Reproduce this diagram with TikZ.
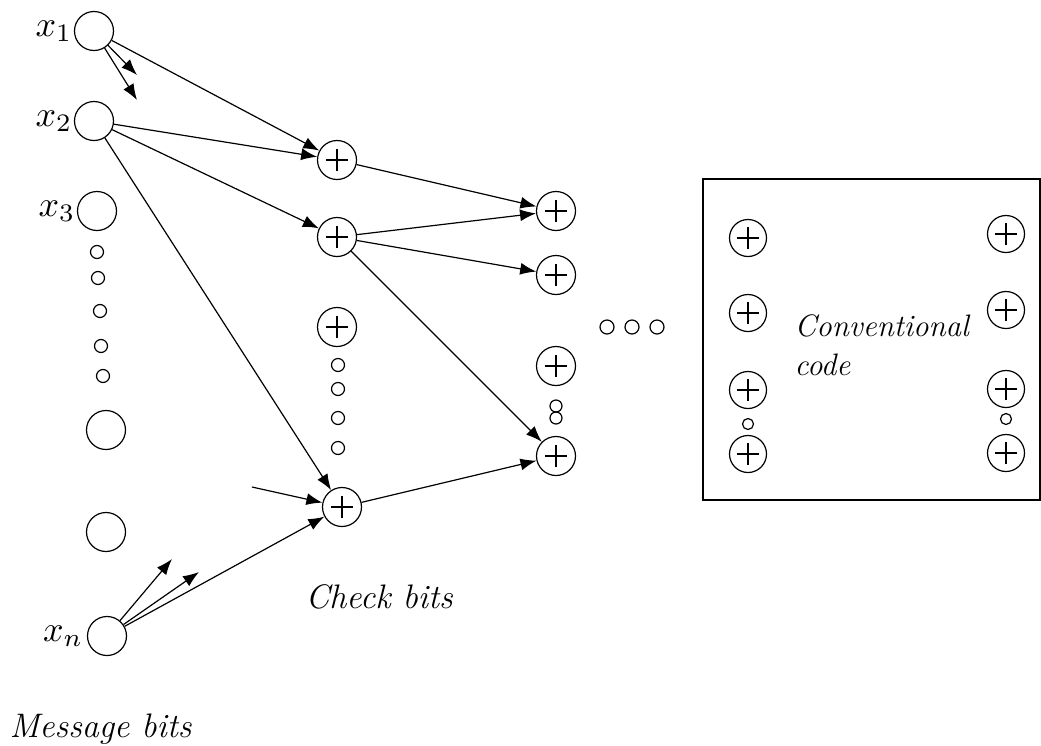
\documentclass[tikz,border=0pt]{standalone}
\usepackage{amsmath}
\usepackage{graphicx}
\usetikzlibrary{arrows.meta,positioning}

\begin{document}
\begin{tikzpicture}[x=1pt, y=-1pt, line width=1.2pt,
	main/.style = {draw, circle, minimum size=39pt, inner sep=0pt},
	xor/.style = {main, path picture={
		\draw ([xshift=-11pt]path picture bounding box.center) -- ([xshift=11pt]path picture bounding box.center);
		\draw ([yshift=-11pt]path picture bounding box.center) -- ([yshift=11pt]path picture bounding box.center);}},
	dot/.style = {draw, circle, minimum size=13pt, inner sep=0pt},
	arr/.style = {-{Latex[length=16pt,width=12pt]}},
	xlab/.style = {inner sep=0pt},
	lab/.style = {font=\fontsize{34}{40}\selectfont\itshape, inner sep=0pt, anchor=base west}]
	\useasboundingbox (0,0) rectangle (1041,745);
	% message bits
	\node[main] (x1) at (94,31) {};
	\node[main] (x2) at (94,121) {};
	\node[main] (x3) at (97,211) {};
	\node[dot] (m1) at (97,252) {};
	\node[dot] (m2) at (98,278) {};
	\node[dot] (m3) at (100,311) {};
	\node[dot] (m4) at (101,346) {};
	\node[dot] (m5) at (103,376) {};
	\node[main] (x4) at (106,430) {};
	\node[main] (x5) at (106,532) {};
	\node[main] (xn) at (107,636) {};
	\node[xlab, left=1pt of x1] (l1) {\scalebox{3.6}{$x_1$}};
	\node[xlab, left=1pt of x2] (l2) {\scalebox{3.6}{$x_2$}};
	\node[xlab, left=1pt of x3] (l3) {\scalebox{3.6}{$x_3$}};
	\node[xlab, left=3pt of xn] (ln) {\scalebox{3.6}{$x_n$}};
	% check bits
	\node[xor] (c1) at (337,160) {};
	\node[xor] (c2) at (337,237) {};
	\node[xor] (c3) at (337,327) {};
	\node[dot] (k1) at (338,365) {};
	\node[dot] (k2) at (338,389) {};
	\node[dot] (k3) at (338,418) {};
	\node[dot] (k4) at (338,448) {};
	\node[xor] (c4) at (342,507) {};
	% next layer
	\node[xor] (d1) at (556,211) {};
	\node[xor] (d2) at (556,275) {};
	\node[xor] (d3) at (556,366) {};
	\node[dot, minimum size=12pt] (e1) at (556,406) {};
	\node[dot, minimum size=12pt] (e2) at (556,418) {};
	\node[xor] (d4) at (556,456) {};
	\node[dot, minimum size=14pt] (o1) at (607,327) {};
	\node[dot, minimum size=14pt] (o2) at (632,327) {};
	\node[dot, minimum size=14pt] (o3) at (657,327) {};
	% free ends
	\coordinate (a1) at (137,75);
	\coordinate (a2) at (137,100);
	\coordinate (a3) at (172,559);
	\coordinate (a4) at (199,572);
	\coordinate (s1) at (252,487);
	% connections
	\draw[arr] (x1) -- (a1);
	\draw[arr] (x1) -- (a2);
	\draw[arr] (x1) -- (c1);
	\draw[arr] (x2) -- (c1);
	\draw[arr] (x2) -- (c2);
	\draw[arr] (x2) -- (c4);
	\draw[arr] (xn) -- (a3);
	\draw[arr] (xn) -- (a4);
	\draw[arr] (xn) -- (c4);
	\draw[arr] (s1) -- (c4);
	\draw[arr] (c1) -- (d1);
	\draw[arr] (c2) -- (d1);
	\draw[arr] (c2) -- (d2);
	\draw[arr] (c2) -- (d4);
	\draw[arr] (c4) -- (d4);
	% conventional code box
	\node[draw, minimum width=337pt, minimum height=321pt, inner sep=0pt] (box) at (871.5,339.5) {};
	\node[xor, minimum size=37pt] (b1) at (748,238) {};
	\node[xor, minimum size=37pt] (b2) at (748,313) {};
	\node[xor, minimum size=37pt] (b3) at (748,390) {};
	\node[dot, minimum size=11pt] (b4) at (748,424) {};
	\node[xor, minimum size=37pt] (b5) at (748,454) {};
	\node[xor, minimum size=37pt] (r1) at (1006,234) {};
	\node[xor, minimum size=37pt] (r2) at (1006,310) {};
	\node[xor, minimum size=37pt] (r3) at (1006,389) {};
	\node[dot, minimum size=11pt] (r4) at (1006,419) {};
	\node[xor, minimum size=37pt] (r5) at (1006,453) {};
	\node[lab, font=\fontsize{31}{36}\selectfont\itshape] (conv) at (794,336) {Conventional};
	\node[lab, font=\fontsize{31}{36}\selectfont\itshape] (code) at (794,375) {code};
	% captions
	\node[lab] (check) at (305,608) {Check bits};
	\node[lab] (msg) at (9,737) {Message bits};
\end{tikzpicture}
\end{document}
